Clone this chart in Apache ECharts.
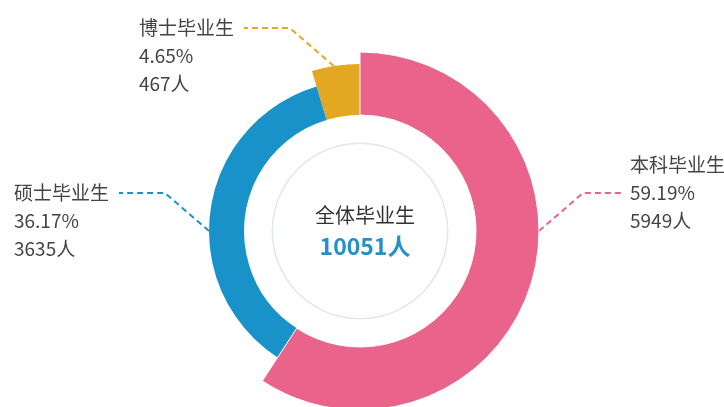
<!DOCTYPE html>
<html>
<head>
<meta charset="utf-8">
<script src="https://cdn.jsdelivr.net/npm/echarts@6/dist/echarts.min.js"></script>
<style>
  html, body { margin: 0; padding: 0; background: #fff; }
  #chart { width: 724px; height: 407px; }
</style>
</head>
<body>
<div id="chart"></div>
<script>
// graduate counts by degree
var degreeNames = ['本科毕业生', '硕士毕业生', '博士毕业生'];
var degreeCounts = [5949, 3635, 467];
var totalLabel = '全体毕业生';
var totalCount = 10051;

var colors = ['#e9638b', '#1892c9', '#e4a722'];
var outerRadius = [179, 151, 167];
var innerRadius = 116;
var cx = 360, cy = 231;

// where each leader line leaves the ring (deg, clockwise from 12 o'clock)
var leaderAngles = [90, 270, 351];
// which side the label sits on
var labelSide = [1, -1, -1];

var sum = degreeCounts.reduce(function (a, b) { return a + b; }, 0);

var chart = echarts.init(document.getElementById('chart'));

function leaderLayout(params) {
  var idx = params.seriesIndex;
  var a = leaderAngles[idx] * Math.PI / 180;
  var r = outerRadius[idx];
  var p0 = [cx + r * Math.sin(a), cy - r * Math.cos(a)];
  var s = labelSide[idx];
  var p1 = [p0[0] + s * 44, p0[1] - 38];
  var p2 = [p1[0] + s * (s > 0 ? 40 : 46), p1[1]];
  if (s > 0) {
    // right side: leader points at the middle line
    return {
      x: p2[0] + 7, y: p2[1],
      align: 'left', verticalAlign: 'middle',
      labelLinePoints: [p0, p1, p2]
    };
  }
  // left side: leader points at the first line
  return {
    x: p2[0] - 9, y: p2[1] - 14,
    align: 'right', verticalAlign: 'top',
    labelLinePoints: [p0, p1, p2]
  };
}

// one pie per degree, same data so the angles line up; only own slice is visible
function buildSeries(idx) {
  var data = [];
  for (var i = 0; i < degreeNames.length; i++) {
    var item = { name: degreeNames[i], value: degreeCounts[i] };
    if (i === idx) {
      item.itemStyle = { color: colors[i], borderColor: '#fff', borderWidth: idx === 0 ? 1 : 0 };
      item.label = { show: true };
      item.labelLine = { show: true, lineStyle: { color: colors[i] } };
    } else {
      item.itemStyle = { color: 'transparent' };
      item.label = { show: false };
      item.labelLine = { show: false };
    }
    data.push(item);
  }
  return {
    type: 'pie',
    center: [cx, cy],
    radius: [innerRadius, outerRadius[idx]],
    startAngle: 90,
    clockwise: true,
    silent: true,
    z: 3 - idx,
    emphasis: { disabled: true },
    label: {
      position: 'outside',
      formatter: function (p) {
        var pct = (p.value / sum * 100).toFixed(2);
        return '{t|' + p.name + '}\n{t|' + pct + '%}\n{t|' + p.value + '人}';
      },
      rich: {
        t: {
          fontSize: 19,
          lineHeight: 28,
          color: '#444',
          width: 96,
          align: 'left',
          fontFamily: 'Noto Sans CJK SC'
        }
      }
    },
    labelLine: {
      length: 30,
      length2: 42,
      lineStyle: { type: [6, 4], width: 2 }
    },
    labelLayout: leaderLayout,
    data: data
  };
}

var series = [buildSeries(0), buildSeries(1), buildSeries(2)];

// thin grey ring behind the centre text
series.push({
  type: 'pie',
  center: [cx, cy],
  radius: [87, 88.5],
  silent: true,
  label: { show: false },
  labelLine: { show: false },
  itemStyle: { color: '#e0e7eb' },
  data: [{ value: 1, name: 'ring' }]
});

var option = {
  backgroundColor: '#fff',
  animation: false,
  title: {
    text: totalLabel,
    subtext: totalCount + '人',
    left: cx,
    top: 200,
    textAlign: 'center',
    itemGap: 10,
    textStyle: {
      fontSize: 20,
      fontWeight: 'normal',
      color: '#333',
      fontFamily: 'Noto Sans CJK SC'
    },
    subtextStyle: {
      fontSize: 23,
      fontWeight: 'bold',
      color: '#2590c6',
      fontFamily: 'Noto Sans CJK SC'
    }
  },
  series: series
};

chart.setOption(option);
</script>
</body>
</html>
